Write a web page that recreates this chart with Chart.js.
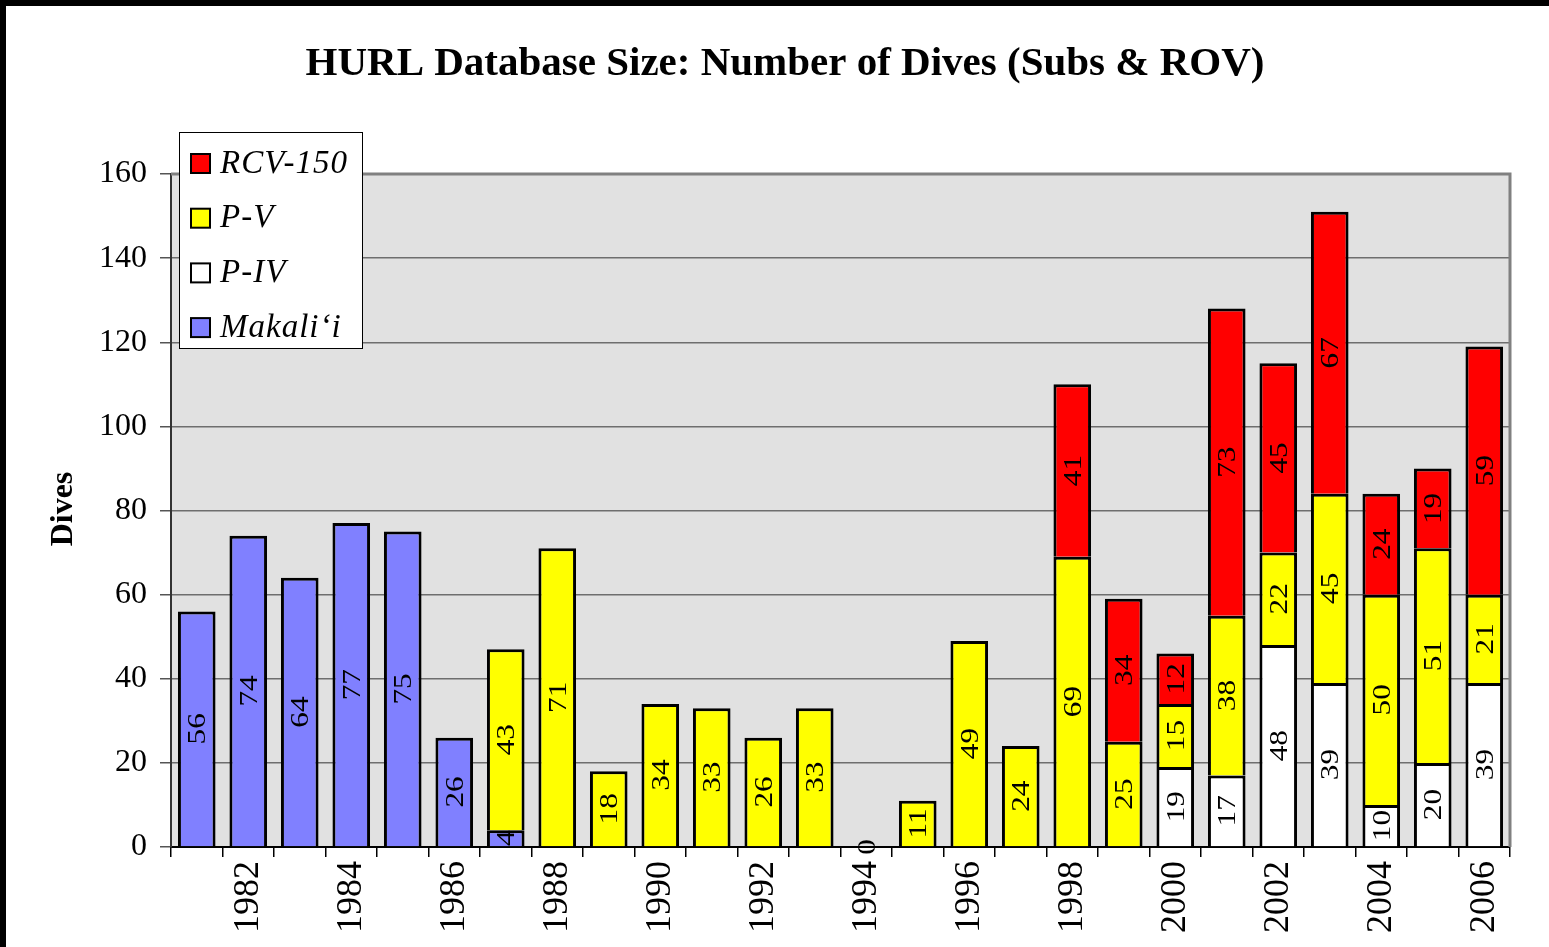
<!DOCTYPE html>
<html>
<head>
<meta charset="utf-8">
<script src="https://cdn.jsdelivr.net/npm/chart.js@4/dist/chart.umd.min.js"></script>
<style>
  html, body { margin: 0; padding: 0; background: #fff; }
  canvas { display: block; }
</style>
</head>
<body>
<canvas id="diveChart" width="1549" height="947"></canvas>
<script>
// years on the x axis
const years = ['1981', '1982', '1983', '1984', '1985', '1986', '1987', '1988', '1989', '1990',
  '1991', '1992', '1993', '1994', '1995', '1996', '1997', '1998', '1999', '2000',
  '2001', '2002', '2003', '2004', '2005', '2006'];

// dives per vehicle (null = no bar segment)
const makalii = [56, 74, 64, 77, 75, 26, 4, null, null, null, null, null, null, null, null, null, null, null, null, null, null, null, null, null, null, null];
const pIV = [null, null, null, null, null, null, null, null, null, null, null, null, null, null, null, null, null, null, null, 19, 17, 48, 39, 10, 20, 39];
const pV = [null, null, null, null, null, null, 43, 71, 18, 34, 33, 26, 33, 0, 11, 49, 24, 69, 25, 15, 38, 22, 45, 50, 51, 21];
const rcv150 = [null, null, null, null, null, null, null, null, null, null, null, null, null, null, null, null, null, 41, 34, 12, 73, 45, 67, 24, 19, 59];

const yTicks = [0, 20, 40, 60, 80, 100, 120, 140, 160];

const serif = "'Liberation Serif', 'Times New Roman', serif";

// legend entries, top to bottom as in the picture
const legendItems = [
  { text: 'RCV-150', color: '#ff0000' },
  { text: 'P-V', color: '#ffff00' },
  { text: 'P-IV', color: '#ffffff' },
  { text: 'Makali\u2018i', color: '#8080ff' }
];

// background, frame, title, legend and the numbers inside the bars
const decorPlugin = {
  id: 'decor',
  beforeDraw(chart) {
    const ctx = chart.ctx;
    const a = chart.chartArea;
    ctx.save();
    ctx.fillStyle = '#ffffff';
    ctx.fillRect(0, 0, chart.width, chart.height);
    ctx.fillStyle = '#e1e1e1';
    ctx.fillRect(a.left, a.top, a.right - a.left, a.bottom - a.top);
    ctx.restore();
  },
  beforeDatasetsDraw(chart) {
    const ctx = chart.ctx;
    const a = chart.chartArea;
    ctx.save();
    ctx.strokeStyle = '#808080';
    ctx.lineWidth = 3;
    ctx.beginPath();
    ctx.moveTo(a.left, a.top);
    ctx.lineTo(a.right, a.top);
    ctx.lineTo(a.right, a.bottom);
    ctx.stroke();
    ctx.restore();
  },
  afterDatasetsDraw(chart) {
    const ctx = chart.ctx;
    ctx.save();
    ctx.fillStyle = '#000';
    ctx.font = '25px ' + serif;
    ctx.textAlign = 'center';
    ctx.textBaseline = 'middle';
    chart.data.datasets.forEach((ds, di) => {
      const meta = chart.getDatasetMeta(di);
      meta.data.forEach((bar, i) => {
        const v = ds.data[i];
        if (v === null || v === undefined) return;
        const cy = (bar.y + bar.base) / 2;
        ctx.save();
        ctx.translate(bar.x + 1, cy);
        ctx.rotate(-Math.PI / 2);
        ctx.scale(1.25, 1);
        ctx.fillText(String(v), 0, 1);
        ctx.restore();
      });
    });
    ctx.restore();
  },
  afterDraw(chart) {
    const ctx = chart.ctx;
    ctx.save();

    // title
    ctx.fillStyle = '#000';
    ctx.font = 'bold 41px ' + serif;
    ctx.textAlign = 'center';
    ctx.textBaseline = 'alphabetic';
    ctx.fillText('HURL Database Size: Number of Dives (Subs & ROV)', 785, 75);

    // y axis title
    ctx.save();
    ctx.translate(72, 509);
    ctx.rotate(-Math.PI / 2);
    ctx.font = 'bold 32px ' + serif;
    ctx.fillText('Dives', 0, 0);
    ctx.restore();

    // legend box
    ctx.fillStyle = '#ffffff';
    ctx.fillRect(179, 132, 184, 217);
    ctx.strokeStyle = '#000';
    ctx.lineWidth = 1;
    ctx.strokeRect(179.5, 132.5, 183, 216);
    ctx.letterSpacing = '1px';
    legendItems.forEach((item, i) => {
      const cy = 163 + i * 54.7;
      ctx.fillStyle = item.color;
      ctx.fillRect(191, cy - 9, 19, 19);
      ctx.lineWidth = 2;
      ctx.strokeStyle = '#000';
      ctx.strokeRect(191, cy - 9, 19, 19);
      ctx.fillStyle = '#000';
      ctx.font = 'italic 33px ' + serif;
      ctx.textAlign = 'left';
      ctx.textBaseline = 'middle';
      ctx.fillText(item.text, 220, cy + 1);
    });
    ctx.letterSpacing = '0px';

    // black frame on the top and left edges
    ctx.fillStyle = '#000';
    ctx.fillRect(0, 0, chart.width, 6);
    ctx.fillRect(0, 0, 6, chart.height);
    ctx.restore();
  }
};

const barStyle = {
  borderColor: '#000',
  borderWidth: 3,
  borderSkipped: 'start',
  barPercentage: 0.73,
  categoryPercentage: 1.0
};

const ctx = document.getElementById('diveChart').getContext('2d');
new Chart(ctx, {
  type: 'bar',
  data: {
    labels: years,
    datasets: [
      Object.assign({ label: 'Makali\u2018i', data: makalii, backgroundColor: '#8080ff' }, barStyle),
      Object.assign({ label: 'P-IV', data: pIV, backgroundColor: '#ffffff' }, barStyle),
      Object.assign({ label: 'P-V', data: pV, backgroundColor: '#ffff00' }, barStyle),
      Object.assign({ label: 'RCV-150', data: rcv150, backgroundColor: '#ff0000' }, barStyle)
    ]
  },
  options: {
    responsive: false,
    animation: false,
    layout: { padding: { top: 174, right: 39, left: 0, bottom: 0 } },
    plugins: {
      legend: { display: false },
      title: { display: false },
      tooltip: { enabled: false }
    },
    scales: {
      x: {
        stacked: true,
        offset: true,
        grid: {
          offset: true,
          drawOnChartArea: false,
          tickLength: 10,
          tickColor: '#000',
          lineWidth: 1.5
        },
        border: { color: '#000', width: 2 },
        ticks: {
          autoSkip: false,
          minRotation: 90,
          maxRotation: 90,
          padding: 4,
          color: '#000',
          font: { family: serif, size: 36 },
          callback: function (value) {
            const y = this.getLabelForValue(value);
            return Number(y) % 2 === 0 ? y : '';
          }
        },
        afterFit(scale) { scale.height = 100; }
      },
      y: {
        stacked: true,
        min: 0,
        max: 160,
        afterBuildTicks(scale) {
          scale.ticks = yTicks.map(v => ({ value: v }));
        },
        grid: {
          color: '#6e6e6e',
          lineWidth: 1.5,
          tickLength: 11,
          tickColor: '#555'
        },
        border: { color: '#333', width: 2 },
        ticks: {
          padding: 13,
          color: '#000',
          font: { family: serif, size: 32 }
        },
        afterFit(scale) { scale.width = 171; }
      }
    }
  },
  plugins: [decorPlugin]
});
</script>
</body>
</html>
